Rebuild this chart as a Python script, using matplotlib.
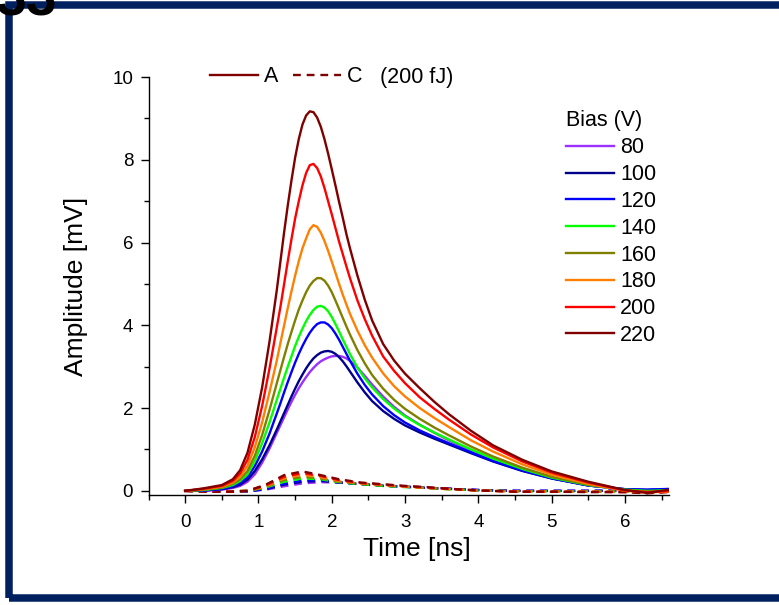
#!/usr/bin/env python3
"""
Pulse amplitude vs time for several bias voltages (solid A, dashed C)
"""

import matplotlib

matplotlib.use("Agg")
import matplotlib.pyplot as plt
from matplotlib.lines import Line2D
from matplotlib.patches import Rectangle
from matplotlib.ticker import MultipleLocator

plt.rcParams["font.family"] = ["Liberation Sans", "DejaVu Sans"]

# Bias voltages and colours
bias = ["80", "100", "120", "140", "160", "180", "200", "220"]
colors = ["#9B30FF", "#00008B", "#0000FF", "#00FF00", "#808000", "#FF8000", "#FF0000", "#800000"]

# Time grid for signal A [ns]
time_a = [0, 0.25, 0.5, 0.65, 0.75, 0.85, 0.95, 1.05, 1.15, 1.25,
          1.3, 1.35, 1.4, 1.45, 1.5, 1.55, 1.6, 1.65, 1.7, 1.75,
          1.8, 1.85, 1.9, 1.95, 2.0, 2.05, 2.1, 2.15, 2.2, 2.25,
          2.35, 2.45, 2.55, 2.7, 2.85, 3.0, 3.2, 3.4, 3.6, 3.9,
          4.2, 4.6, 5.0, 5.5, 6.0, 6.3, 6.65]

# Amplitude A [mV], one list per bias
amp_a_80 = [0, 0.0, 0.03, 0.07, 0.12, 0.22, 0.4, 0.68, 1.02, 1.4,
            1.59, 1.78, 1.97, 2.15, 2.32, 2.48, 2.62, 2.75, 2.87, 2.97,
            3.06, 3.13, 3.18, 3.22, 3.25, 3.26, 3.26, 3.24, 3.2, 3.14,
            2.98, 2.78, 2.57, 2.28, 2.03, 1.82, 1.6, 1.4, 1.22, 0.97,
            0.75, 0.51, 0.31, 0.13, 0.04, 0.02, 0.03]
amp_a_100 = [0, 0.01, 0.04, 0.09, 0.15, 0.27, 0.48, 0.76, 1.1, 1.48,
             1.68, 1.88, 2.08, 2.28, 2.47, 2.65, 2.81, 2.96, 3.09, 3.2,
             3.28, 3.34, 3.37, 3.38, 3.36, 3.31, 3.23, 3.13, 3.01, 2.88,
             2.62, 2.38, 2.17, 1.93, 1.74, 1.58, 1.41, 1.26, 1.12, 0.91,
             0.71, 0.48, 0.3, 0.13, 0.04, 0.02, 0.03]
amp_a_120 = [0, 0.01, 0.05, 0.11, 0.19, 0.33, 0.6, 0.95, 1.38, 1.87,
             2.12, 2.38, 2.63, 2.87, 3.1, 3.31, 3.5, 3.67, 3.82, 3.94,
             4.03, 4.07, 4.07, 4.02, 3.93, 3.8, 3.65, 3.48, 3.31, 3.14,
             2.83, 2.56, 2.33, 2.05, 1.83, 1.65, 1.46, 1.3, 1.15, 0.93,
             0.72, 0.49, 0.3, 0.13, 0.04, 0.03, 0.05]
amp_a_140 = [0, 0.02, 0.07, 0.14, 0.24, 0.4, 0.72, 1.15, 1.65, 2.2,
             2.47, 2.74, 3.0, 3.25, 3.5, 3.72, 3.92, 4.1, 4.25, 4.37,
             4.45, 4.47, 4.43, 4.34, 4.2, 4.03, 3.85, 3.66, 3.48, 3.3,
             2.98, 2.72, 2.5, 2.22, 1.99, 1.8, 1.59, 1.41, 1.24, 1.0,
             0.78, 0.53, 0.32, 0.14, 0.03, 0.0, 0.02]
amp_a_160 = [0, 0.03, 0.08, 0.17, 0.28, 0.48, 0.85, 1.35, 1.95, 2.6,
             2.92, 3.24, 3.55, 3.84, 4.12, 4.38, 4.6, 4.8, 4.96, 5.07,
             5.14, 5.14, 5.08, 4.96, 4.8, 4.6, 4.39, 4.18, 3.97, 3.77,
             3.4, 3.08, 2.8, 2.47, 2.2, 1.98, 1.74, 1.53, 1.34, 1.07,
             0.83, 0.56, 0.34, 0.15, 0.02, -0.02, 0.0]
amp_a_180 = [0, 0.04, 0.1, 0.2, 0.34, 0.6, 1.05, 1.65, 2.38, 3.15,
             3.58, 4.0, 4.42, 4.82, 5.2, 5.55, 5.86, 6.1, 6.32, 6.42,
             6.38, 6.24, 6.04, 5.8, 5.54, 5.27, 5.0, 4.74, 4.5, 4.27,
             3.87, 3.52, 3.22, 2.84, 2.53, 2.28, 2.0, 1.76, 1.54, 1.22,
             0.95, 0.64, 0.39, 0.17, 0.0, -0.03, -0.02]
amp_a_200 = [0, 0.05, 0.12, 0.24, 0.42, 0.75, 1.3, 2.05, 2.95, 3.95,
             4.45, 5.0, 5.55, 6.08, 6.58, 7.0, 7.38, 7.68, 7.87, 7.9,
             7.8, 7.6, 7.32, 7.0, 6.68, 6.35, 6.02, 5.72, 5.42, 5.13,
             4.6, 4.15, 3.75, 3.25, 2.9, 2.6, 2.26, 1.98, 1.72, 1.36,
             1.05, 0.71, 0.44, 0.2, 0.01, -0.03, 0.0]
amp_a_220 = [0, 0.06, 0.14, 0.28, 0.5, 0.92, 1.6, 2.5, 3.6, 4.85,
             5.55, 6.25, 6.9, 7.5, 8.05, 8.5, 8.85, 9.07, 9.17, 9.15,
             9.02, 8.8, 8.5, 8.15, 7.77, 7.38, 6.98, 6.6, 6.2, 5.85,
             5.2, 4.62, 4.12, 3.55, 3.15, 2.83, 2.48, 2.15, 1.85, 1.45,
             1.1, 0.75, 0.47, 0.22, 0.02, -0.05, 0.04]

# Time grid for signal C [ns]
time_c = [0, 0.3, 0.6, 0.85, 1.1, 1.35, 1.6, 1.85, 2.1, 2.4, 2.7, 3.0, 3.3, 3.6, 4.0, 4.5, 5.0,
          5.5, 6.0, 6.3, 6.65]

# Amplitude C [mV], one list per bias
amp_c_80 = [0, 0.0, -0.01, -0.01, 0.03, 0.11, 0.18, 0.21, 0.2, 0.16, 0.12, 0.1, 0.07, 0.05, 0.02,
            0.0, 0.0, 0.0, 0.0, 0.01, 0.02]
amp_c_100 = [0, -0.01, -0.01, -0.01, 0.04, 0.15, 0.22, 0.24, 0.2, 0.16, 0.12, 0.1, 0.07, 0.05, 0.02,
             0.0, 0.0, 0.0, 0.0, 0.01, 0.02]
amp_c_120 = [0, -0.01, -0.01, -0.01, 0.05, 0.17, 0.25, 0.26, 0.21, 0.16, 0.13, 0.1, 0.07, 0.05, 0.02,
             0.0, 0.0, 0.0, 0.01, 0.02, 0.04]
amp_c_140 = [0, -0.01, -0.01, 0.0, 0.08, 0.22, 0.3, 0.28, 0.21, 0.16, 0.12, 0.09, 0.07, 0.04, 0.01,
             -0.01, -0.01, -0.01, -0.02, -0.02, 0.0]
amp_c_160 = [0, -0.01, -0.01, 0.0, 0.09, 0.26, 0.34, 0.3, 0.22, 0.17, 0.13, 0.1, 0.07, 0.04, 0.01,
             -0.01, -0.01, -0.02, -0.02, -0.03, -0.01]
amp_c_180 = [0, -0.02, -0.01, 0.0, 0.11, 0.3, 0.39, 0.33, 0.24, 0.18, 0.14, 0.1, 0.07, 0.04, 0.01,
             -0.01, -0.02, -0.02, -0.02, -0.04, -0.01]
amp_c_200 = [0, -0.02, -0.02, 0.0, 0.13, 0.34, 0.43, 0.36, 0.26, 0.19, 0.15, 0.11, 0.08, 0.05, 0.01,
             -0.02, -0.02, -0.02, -0.03, -0.05, -0.02]
amp_c_220 = [0, -0.02, -0.02, 0.0, 0.15, 0.38, 0.47, 0.38, 0.28, 0.2, 0.16, 0.12, 0.09, 0.05, 0.01,
             -0.02, -0.02, -0.03, -0.03, -0.06, -0.02]

amps_a = [amp_a_80, amp_a_100, amp_a_120, amp_a_140, amp_a_160, amp_a_180, amp_a_200, amp_a_220]
amps_c = [amp_c_80, amp_c_100, amp_c_120, amp_c_140, amp_c_160, amp_c_180, amp_c_200, amp_c_220]

W, H = 779, 605
fig = plt.figure(figsize=(W / 100, H / 100), dpi=100)
ax = fig.add_axes([148.5 / W, 1 - 495 / H, (669 - 148.5) / W, (495 - 77) / H])

# Dashed C curves first, solid A curves on top
for amp, col in zip(amps_c, colors):
    ax.plot(time_c, amp, color=col, lw=1.7, ls=(0, (3.3, 2.5)))
for amp, col, b in zip(amps_a, colors, bias):
    ax.plot(time_a, amp, color=col, lw=1.7, label=b)

ax.set_xlim(-0.5, 6.6)
ax.set_ylim(-0.1, 10)
ax.xaxis.set_major_locator(MultipleLocator(1))
ax.xaxis.set_minor_locator(MultipleLocator(0.5))
ax.yaxis.set_major_locator(MultipleLocator(2))
ax.yaxis.set_minor_locator(MultipleLocator(1))
ax.spines["top"].set_visible(False)
ax.spines["right"].set_visible(False)
for s in ("left", "bottom"):
    ax.spines[s].set_linewidth(1.0)
ax.tick_params(which="major", direction="out", length=6, width=1.0, labelsize=13.5)
ax.tick_params(which="minor", direction="out", length=3.3, width=1.0)
ax.tick_params(axis="y", which="major", pad=5)
ax.tick_params(axis="x", which="major", pad=8)

ax.set_xlabel("Time [ns]", fontsize=19)
ax.set_ylabel("Amplitude [mV]", fontsize=19)
ax.xaxis.set_label_coords((417 - 148.5) / (669 - 148.5), -(537 - 495) / (495 - 77))
ax.yaxis.set_label_coords(-(148.5 - 88) / (669 - 148.5), 0.5)

# Bias legend
leg = ax.legend(title="Bias (V)", loc="upper left", bbox_to_anchor=(0.802, 0.92),
                frameon=False, fontsize=15.5, title_fontsize=15.5, handlelength=2.22,
                handletextpad=0.3, labelspacing=0.27, borderpad=0, borderaxespad=0,
                alignment="left")
ax.add_artist(leg)

# A / C line style legend
style_handles = [Line2D([], [], color="#800000", lw=1.7),
                 Line2D([], [], color="#800000", lw=1.7, ls=(0, (3.3, 2.5)))]
ax.legend(style_handles, ["A", "C"], loc="center left", bbox_to_anchor=(0.118, 1.0),
          ncol=2, frameon=False, fontsize=15.5, handlelength=2.22, handletextpad=0.28,
          columnspacing=0.69, borderpad=0, borderaxespad=0)
ax.text((380 - 148.5) / (669 - 148.5), 1.0, "(200 fJ)", transform=ax.transAxes,
        fontsize=15.5, va="center", ha="left")

# Slide frame
fig.add_artist(Rectangle((8.7 / W, 1 - 597.5 / H), 1.2, (597.5 - 5) / H,
                         transform=fig.transFigure, fill=False, ec="#002060", lw=5.4,
                         clip_on=False))
fig.text(-4 / W, 1 - 16 / H, "33", fontsize=40, fontweight="bold", color="black",
         ha="left", va="baseline")

fig.savefig("out.png", dpi=100)
